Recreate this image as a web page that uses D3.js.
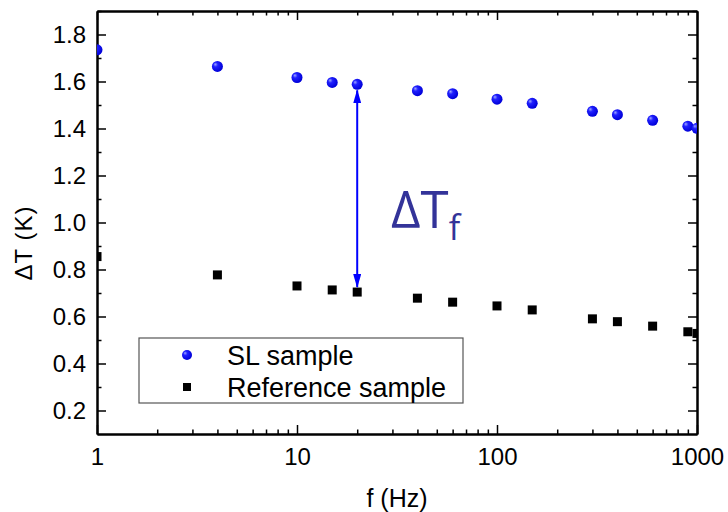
<!DOCTYPE html>
<html>
<head>
<meta charset="utf-8">
<script src="https://cdn.jsdelivr.net/npm/d3@7"></script>
<style>
  body { margin: 0; background: #fff; }
  svg { font-family: "Liberation Sans", Arial, sans-serif; }
</style>
</head>
<body>
<svg id="chart" width="728" height="512"></svg>
<script>
// frequencies (Hz)
var freq = [1, 4, 10, 15, 20, 40, 60, 100, 150, 300, 400, 600, 900, 1000];
// SL sample deltaT (K)
var slValues = [1.735, 1.664, 1.617, 1.596, 1.588, 1.561, 1.548, 1.525, 1.507, 1.473, 1.459, 1.435, 1.410, 1.401];
// Reference sample deltaT (K)
var refValues = [0.855, 0.777, 0.730, 0.713, 0.704, 0.678, 0.661, 0.645, 0.628, 0.590, 0.578, 0.559, 0.535, 0.528];
var xTicks = [1, 10, 100, 1000];
var yTicks = [0.2, 0.4, 0.6, 0.8, 1.0, 1.2, 1.4, 1.6, 1.8];
var arrowFreq = 20;

var svg = d3.select("#chart");
var pLeft = 97, pRight = 697, pTop = 11, pBottom = 434;

var x = d3.scaleLog().domain([1, 1000]).range([pLeft, pRight]);
var y = d3.scaleLinear().domain([0.1, 1.9]).range([pBottom, pTop]);

// minor tick values
var xMinor = [];
[1, 10, 100].forEach(function (d) {
  for (var k = 2; k <= 9; k++) xMinor.push(d * k);
});
var yMinor = [];
for (var v = 0.3; v < 1.9; v += 0.2) yMinor.push(+v.toFixed(1));

// defs: sphere gradient and arrow marker
var defs = svg.append("defs");
var grad = defs.append("radialGradient")
  .attr("id", "ball").attr("cx", "40%").attr("cy", "40%").attr("r", "60%")
  .attr("fx", "30%").attr("fy", "30%");
grad.append("stop").attr("offset", "0%").attr("stop-color", "#9fa8ff");
grad.append("stop").attr("offset", "35%").attr("stop-color", "#2020ff");
grad.append("stop").attr("offset", "100%").attr("stop-color", "#0000d8");

defs.append("marker")
  .attr("id", "arrow").attr("viewBox", "0 0 14 8")
  .attr("refX", 13).attr("refY", 4)
  .attr("markerWidth", 14).attr("markerHeight", 8)
  .attr("markerUnits", "userSpaceOnUse")
  .attr("orient", "auto-start-reverse")
  .append("path").attr("d", "M0,0 L14,4 L0,8 Z").attr("fill", "#0000ff");

function styleAxis(g) {
  g.select(".domain").attr("stroke", "#000").attr("stroke-width", 2);
  g.selectAll(".tick line").attr("stroke", "#000").attr("stroke-width", 1.5);
  g.selectAll("text").attr("font-size", 24).attr("fill", "#000")
    .attr("font-family", "Liberation Sans, Arial, sans-serif");
}

// bottom axis
svg.append("g").attr("transform", "translate(0," + pBottom + ")")
  .call(d3.axisBottom(x).tickValues(xMinor).tickFormat("").tickSize(-4.5).tickSizeOuter(0))
  .call(styleAxis);
svg.append("g").attr("transform", "translate(0," + pBottom + ")")
  .call(d3.axisBottom(x).tickValues(xTicks).tickFormat(d3.format("d")).tickSize(-9).tickSizeOuter(0).tickPadding(14))
  .call(styleAxis);

// top axis
svg.append("g").attr("transform", "translate(0," + pTop + ")")
  .call(d3.axisTop(x).tickValues(xMinor).tickFormat("").tickSize(-4.5).tickSizeOuter(0))
  .call(styleAxis);
svg.append("g").attr("transform", "translate(0," + pTop + ")")
  .call(d3.axisTop(x).tickValues(xTicks).tickFormat("").tickSize(-9).tickSizeOuter(0))
  .call(styleAxis);

// left axis
svg.append("g").attr("transform", "translate(" + pLeft + ",0)")
  .call(d3.axisLeft(y).tickValues(yMinor).tickFormat("").tickSize(-4.5).tickSizeOuter(0))
  .call(styleAxis);
svg.append("g").attr("transform", "translate(" + pLeft + ",0)")
  .call(d3.axisLeft(y).tickValues(yTicks).tickFormat(d3.format(".1f")).tickSize(-9).tickSizeOuter(0).tickPadding(11))
  .call(styleAxis);

// right axis
svg.append("g").attr("transform", "translate(" + pRight + ",0)")
  .call(d3.axisRight(y).tickValues(yMinor).tickFormat("").tickSize(-4.5).tickSizeOuter(0))
  .call(styleAxis);
svg.append("g").attr("transform", "translate(" + pRight + ",0)")
  .call(d3.axisRight(y).tickValues(yTicks).tickFormat("").tickSize(-9).tickSizeOuter(0))
  .call(styleAxis);

// axis titles
svg.append("text").attr("x", (pLeft + pRight) / 2).attr("y", 507)
  .attr("text-anchor", "middle").attr("font-size", 25).text("f (Hz)");
svg.append("text")
  .attr("transform", "translate(32,243) rotate(-90)")
  .attr("text-anchor", "middle").attr("font-size", 24).attr("letter-spacing", 1)
  .text("\u0394T (K)");

// data
var clip = defs.append("clipPath").attr("id", "plotclip");
clip.append("rect").attr("x", pLeft).attr("y", pTop)
  .attr("width", pRight - pLeft).attr("height", pBottom - pTop);

var plot = svg.append("g").attr("clip-path", "url(#plotclip)");
var refData = freq.map(function (f, i) { return { f: f, v: refValues[i] }; });
var slData = freq.map(function (f, i) { return { f: f, v: slValues[i] }; });

plot.selectAll("rect.ref").data(refData).enter().append("rect")
  .attr("class", "ref")
  .attr("x", function (d) { return x(d.f) - 4.5; })
  .attr("y", function (d) { return y(d.v) - 4.5; })
  .attr("width", 9).attr("height", 9).attr("fill", "#000");

plot.selectAll("circle.sl").data(slData).enter().append("circle")
  .attr("class", "sl")
  .attr("cx", function (d) { return x(d.f); })
  .attr("cy", function (d) { return y(d.v); })
  .attr("r", 5.5).attr("fill", "url(#ball)");

// arrow between the two samples at 20 Hz
var ai = freq.indexOf(arrowFreq);
svg.append("line")
  .attr("x1", x(arrowFreq)).attr("x2", x(arrowFreq))
  .attr("y1", y(slValues[ai]) + 6).attr("y2", y(refValues[ai]) - 5)
  .attr("stroke", "#0000ff").attr("stroke-width", 2)
  .attr("marker-start", "url(#arrow)").attr("marker-end", "url(#arrow)");

var lab = svg.append("text").attr("x", 391).attr("y", 228)
  .attr("fill", "#333399").attr("font-size", 51)
  .attr("font-family", "Open Sans, DejaVu Sans, sans-serif");
lab.append("tspan").text("\u0394T");
lab.append("tspan").attr("font-size", 34).attr("dy", 12).text("f");

// legend
var lg = svg.append("g");
lg.append("rect").attr("x", 139).attr("y", 338).attr("width", 324).attr("height", 65)
  .attr("fill", "#fff").attr("stroke", "#555").attr("stroke-width", 1.2);
lg.append("circle").attr("cx", 187).attr("cy", 355).attr("r", 5).attr("fill", "url(#ball)");
lg.append("rect").attr("x", 183).attr("y", 383).attr("width", 8).attr("height", 8).attr("fill", "#000");
lg.append("text").attr("x", 227).attr("y", 365).attr("font-size", 27).text("SL sample");
lg.append("text").attr("x", 227).attr("y", 397).attr("font-size", 27).text("Reference sample");
</script>
</body>
</html>
